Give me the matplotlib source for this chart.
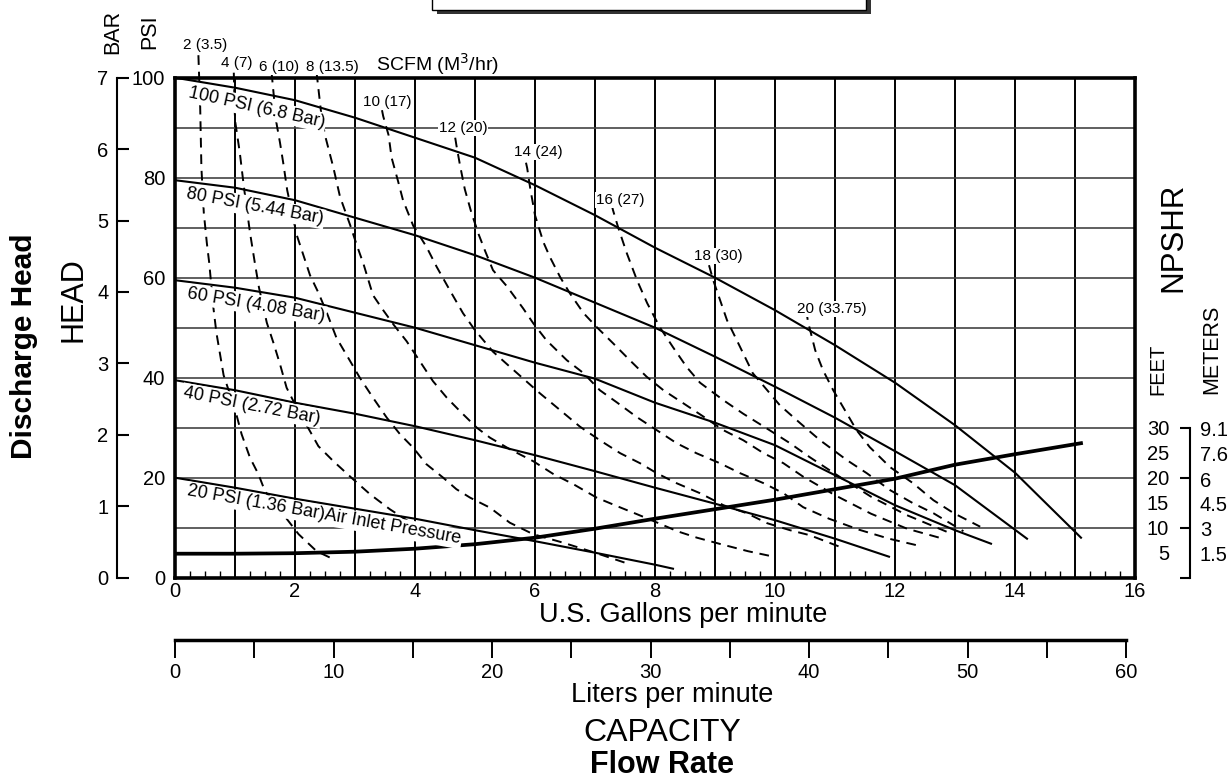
import numpy as np
import matplotlib
matplotlib.use('agg')
import matplotlib.pyplot as plt
from matplotlib.patches import Rectangle

plt.rcParams['font.family'] = ['Liberation Sans', 'DejaVu Sans']

##### Data
# air inlet pressure curves: flow (US gpm) vs discharge head (psi)
gpm_100 = [0, 1, 2, 3, 4, 5, 6, 7, 8, 9, 10, 11, 12, 13, 14, 15.1]
psi_100 = [100, 98, 95.5, 92, 88, 84, 78.5, 72.5, 66, 60, 53.5, 46.5, 39, 30.5, 21, 8]
gpm_80 = [0, 1, 2, 3, 4, 5, 6, 7, 8, 9, 10, 11, 12, 13, 14.2]
psi_80 = [79.5, 78, 75.5, 72, 68.5, 64.5, 60, 55, 50, 44.2, 38.2, 32, 25.3, 18.5, 7.8]
gpm_60 = [0, 1, 2, 3, 4, 5, 6, 7, 8, 9, 10, 11, 12, 13, 13.6]
psi_60 = [59.5, 58, 56, 53, 50, 46.5, 43, 39.8, 35, 31, 26.5, 20.5, 14.5, 9.5, 6.8]
gpm_40 = [0, 1, 2, 3, 4, 5, 6, 7, 8, 9, 10, 11, 11.9]
psi_40 = [39.5, 37.5, 35, 32.8, 30.3, 27.5, 24.5, 21.3, 18, 14.8, 11.5, 7.8, 4.2]
gpm_20 = [0, 1, 2, 3, 4, 5, 6, 7, 8, 8.3]
psi_20 = [20, 18, 15.8, 13.8, 11.8, 9.5, 7.3, 5, 2.6, 1.8]
pressure_labels = ['100 PSI (6.8 Bar)', '80 PSI (5.44 Bar)', '60 PSI (4.08 Bar)',
                   '40 PSI (2.72 Bar)', '20 PSI (1.36 Bar)Air Inlet Pressure']

# NPSHR curve (feet)
gpm_npshr = [0, 1, 2, 3, 4, 5, 6, 7, 8, 9, 10, 11, 12, 13, 14, 15.1]
ft_npshr = [4.8, 4.8, 4.9, 5.2, 5.8, 6.7, 8, 9.8, 11.8, 13.7, 15.6, 17.7, 19.8, 22.6, 24.7, 26.9]

# air consumption curves, SCFM (M3/hr)
gpm_s2 = [0.39, 0.42, 0.44, 0.48, 0.53, 0.57, 0.64, 0.69, 0.81, 1.0, 1.11, 1.25, 1.39, 1.5, 1.75, 2.06, 2.36, 2.64]
psi_s2 = [104.5, 94, 82, 73, 67, 63, 54, 49, 40.5, 33.7, 28.7, 24, 20.7, 17.3, 13.5, 8.7, 5.3, 3.7]
gpm_s4 = [0.98, 1.0, 1.08, 1.15, 1.25, 1.33, 1.4, 1.53, 1.64, 1.75, 1.86, 2.05, 2.25, 2.39, 2.64, 2.94, 3.25, 3.58, 3.95]
psi_s4 = [101, 91.5, 85, 78, 69, 63, 58, 51, 47, 42.7, 38, 33.5, 29.3, 26.3, 23.3, 20, 16.7, 13.7, 10.8]
gpm_s6 = [1.61, 1.69, 1.75, 1.81, 1.87, 2.03, 2.14, 2.25, 2.39, 2.53, 2.69, 2.92, 3.08, 3.3, 3.53, 3.75,
          3.97, 4.19, 4.47, 4.69, 4.92, 5.25, 5.58, 5.97, 6.47, 7.0, 7.5]
psi_s6 = [101, 91, 87, 82.5, 77.5, 68.5, 64.5, 60.5, 57, 53, 48, 43.3, 40, 36, 32, 28.7,
          26, 22.7, 20, 17.7, 16, 14, 11, 8.7, 7, 5, 3]
gpm_s8 = [2.36, 2.44, 2.5, 2.64, 2.75, 2.92, 3.03, 3.14, 3.3, 3.47, 3.65, 3.86, 4.08, 4.3, 4.53, 4.75,
          5.03, 5.25, 5.58, 5.97, 6.31, 6.64, 7.03, 7.37, 7.7, 8.1, 8.37, 8.7, 9.1, 9.55, 9.94]
psi_s8 = [101, 92.5, 88.5, 82, 76.2, 70.5, 66.5, 62.8, 56.5, 53.5, 50.5, 47.3, 43.3, 39.3, 36, 33.3,
          30, 28, 25.7, 23.3, 20.7, 18.7, 16, 14.3, 12.7, 10.7, 9.3, 8, 6.7, 5.3, 4.3]
gpm_s10 = [3.45, 3.47, 3.56, 3.61, 3.72, 3.8, 3.97, 4.19, 4.36, 4.58, 4.8, 5.0, 5.3, 5.58, 6.08, 6.42,
           6.75, 7.08, 7.42, 7.75, 8.03, 8.36, 8.75, 9.14, 9.53, 9.87, 10.25, 10.58, 11.14]
psi_s10 = [93.5, 92.3, 88.5, 84, 79.2, 75.5, 70.4, 66.2, 62.2, 57.5, 52.9, 49.5, 45.2, 42.2, 36.9, 33.5,
           30.2, 27.5, 24.9, 22.9, 20.9, 18.9, 16.9, 14.5, 12.9, 10.9, 9.5, 8.5, 5.9]
gpm_s12 = [4.67, 4.69, 4.75, 4.83, 4.94, 5.06, 5.17, 5.3, 5.53, 5.8, 5.97, 6.19, 6.53, 6.81, 7.08, 7.36,
           7.7, 8.03, 8.36, 8.69, 9.08, 9.42, 9.81, 10.14, 10.47, 10.9, 11.4, 11.9, 12.36]
psi_s12 = [88, 86.5, 82.5, 77.7, 73, 68.7, 65.3, 61.5, 58.3, 53.9, 50.9, 47.5, 43.5, 40.9, 37.5, 35.1,
           32.1, 29.5, 26.9, 24.9, 22.9, 20.9, 18.9, 16.9, 14.1, 11.8, 9.6, 7.8, 6.5]
gpm_s14 = [5.85, 5.87, 5.92, 6.0, 6.14, 6.25, 6.42, 6.58, 6.81, 7.03, 7.3, 7.58, 7.86, 8.14, 8.47, 8.81,
           9.14, 9.47, 9.81, 10.14, 10.47, 11.0, 11.6, 12.2, 12.8]
psi_s14 = [83, 81.9, 77.9, 72.5, 67.1, 64.1, 60.1, 56.9, 52.9, 50.1, 46.9, 43.5, 40.2, 37.5, 34.9, 32.2,
           29.5, 27.5, 24.9, 22.9, 20.2, 16.5, 12.8, 9.8, 7.8]
gpm_s16 = [7.28, 7.3, 7.39, 7.53, 7.7, 7.87, 8.08, 8.3, 8.53, 8.75, 9.14, 9.47, 9.87, 10.25, 10.58,
           11.1, 11.6, 12.2, 12.9]
psi_s16 = [74.5, 73.5, 69.9, 64.9, 59.5, 54.9, 50.1, 46.1, 42.1, 39, 35.5, 32.8, 29.8, 26.9, 24.1,
           20, 16.2, 12.5, 9]
gpm_s18 = [8.9, 8.97, 9.2, 9.42, 9.63, 9.87, 10.08, 10.42, 10.75, 11.2, 11.53, 11.92, 12.3, 12.64, 13.14]
psi_s18 = [62.5, 59.5, 51.5, 46.1, 40.9, 37.5, 34.5, 30.9, 27.5, 23.5, 20.9, 17.5, 14.9, 12.9, 9.3]
gpm_s20 = [10.52, 10.55, 10.67, 10.8, 10.97, 11.36, 11.58, 11.92, 12.3, 12.64, 12.98, 13.42]
psi_s20 = [53.5, 51.2, 45.5, 41.5, 37.5, 29.5, 26.1, 22.1, 18.9, 15.5, 12.9, 10.2]
scfm_labels = ['2 (3.5)', '4 (7)', '6 (10)', '8 (13.5)', '10 (17)', '12 (20)',
               '14 (24)', '16 (27)', '18 (30)', '20 (33.75)']

# axis scales
gpm_ticks = list(range(0, 17))
psi_ticks = list(range(0, 101, 10))
bar_ticks = list(range(0, 8))
lpm_major = list(range(0, 61, 10))
lpm_minor = list(range(5, 60, 10))
feet_major = [0, 10, 20, 30]
feet_minor = [5, 15, 25]
meter_ticks = [1.5, 3, 4.5, 6, 7.6, 9.1]

#############################################################################
##### Plotting
W, H = 1231, 778
TS = 14.5  # tick label size
fig = plt.figure(figsize=(W / 100, H / 100), dpi=100)
ax = fig.add_axes([175 / W, 1 - 577.7 / H, 960 / W, 500 / H])
ax.set_xlim(0, 16)
ax.set_ylim(0, 100)

# grid / ticks
ax.set_xticks(gpm_ticks)
ax.set_xticklabels([str(v) if v % 2 == 0 else '' for v in gpm_ticks])
ax.set_xticks(np.arange(0, 16.01, 0.25), minor=True)
ax.tick_params(axis='x', which='major', length=0, labelsize=TS, pad=3)
ax.tick_params(axis='x', which='minor', direction='in', length=5, width=1.0)
ax.set_yticks(psi_ticks)
ax.set_yticklabels([str(v) if v % 20 == 0 else '' for v in psi_ticks])
ax.tick_params(axis='y', which='major', length=0, labelsize=TS, pad=7)
ax.xaxis.grid(True, which='major', color='black', lw=1.4)
ax.yaxis.grid(True, which='major', color='#444444', lw=1.2)
for s in ax.spines.values():
    s.set_linewidth(2.6)

# pressure curves
for xs, ys in [(gpm_100, psi_100), (gpm_80, psi_80), (gpm_60, psi_60), (gpm_40, psi_40), (gpm_20, psi_20)]:
    ax.plot(xs, ys, color='black', lw=1.5, zorder=3)
ax.plot(gpm_npshr, ft_npshr, color='black', lw=2.7, zorder=3)

# air consumption curves
scfm_curves = [(gpm_s2, psi_s2), (gpm_s4, psi_s4), (gpm_s6, psi_s6), (gpm_s8, psi_s8), (gpm_s10, psi_s10),
               (gpm_s12, psi_s12), (gpm_s14, psi_s14), (gpm_s16, psi_s16), (gpm_s18, psi_s18), (gpm_s20, psi_s20)]
for xs, ys in scfm_curves:
    ax.plot(xs, ys, color='black', lw=1.4, ls=(0, (5, 3.5)), clip_on=False, zorder=3)

wbox = dict(facecolor='white', edgecolor='none', pad=0.6)
scfm_pos = [(0.5, 106.6), (1.03, 102.9), (1.73, 102.1), (2.63, 102.1), (3.53, 95.1),
            (4.8, 89.9), (6.05, 85.1), (7.42, 75.5), (9.05, 64.3), (10.95, 53.7)]
for lab, (x, y) in zip(scfm_labels, scfm_pos):
    ax.text(x, y, lab, fontsize=11, ha='center', va='center', bbox=wbox, zorder=5)
ax.text(4.38, 102.7, 'SCFM (M$^3$/hr)', fontsize=14, ha='center', va='center', zorder=5)

press_pos = [(1.36, 94.0, -12.5), (1.33, 74.2, -10.5), (1.35, 54.6, -9.5), (1.28, 34.4, -11), (2.48, 12.5, -10)]
for lab, (x, y, r) in zip(pressure_labels, press_pos):
    ax.text(x, y, lab, fontsize=13, ha='center', va='center', rotation=r, rotation_mode='anchor',
            bbox=dict(facecolor='white', edgecolor='none', pad=1.0), zorder=5)

# BAR scale on the left
bar = ax.secondary_yaxis(-58.3 / 960, functions=(lambda p: p * 0.07, lambda b: b / 0.07))
bar.set_yticks(bar_ticks)
bar.tick_params(direction='in', length=8.4, width=1.5, labelsize=TS, pad=6)
bar.spines['left'].set_linewidth(1.5)

# NPSHR scale on the right
npsh_loc = 1 + 55 / 960
ft = ax.secondary_yaxis(npsh_loc)
ft.set_alignment('left')
ft.set_yticks(feet_major, labels=['', '10', '20', '30'])
ft.set_yticks(feet_minor, labels=['5', '15', '25'], minor=True)
ft.tick_params(which='major', direction='out', length=7, width=1.5, labelsize=TS, pad=8)
ft.tick_params(which='minor', length=0, labelsize=TS, pad=15)
ft.spines['left'].set_bounds(0, 30)
ft.spines['left'].set_linewidth(1.5)

mt = ax.secondary_yaxis(npsh_loc, functions=(lambda f: f * 0.3048, lambda m: m / 0.3048))
mt.set_yticks(meter_ticks, labels=['1.5', '3', '4.5', '6', '7.6', '9.1'])
mt.tick_params(length=0, labelsize=TS, pad=7)
mt.spines['right'].set_visible(False)

# liters per minute scale
lpm = ax.secondary_xaxis(-62 / 500, functions=(lambda g: g * 3.785, lambda l: l / 3.785))
lpm.set_xticks(lpm_major)
lpm.set_xticks(lpm_minor, minor=True)
lpm.tick_params(which='both', direction='out', length=13, width=1.4, labelsize=TS, pad=4)
lpm.spines['bottom'].set_bounds(0, 60)
lpm.spines['bottom'].set_linewidth(2.5)

# titles and axis names
def px(x, y):
    return x / W, 1 - y / H

fig.text(*px(113, 32), 'BAR', rotation=90, fontsize=15.5, ha='center', va='center')
fig.text(*px(150, 32), 'PSI', rotation=90, fontsize=15.5, ha='center', va='center')
fig.text(*px(73, 300), 'HEAD', rotation=90, fontsize=22, ha='center', va='center')
fig.text(*px(24, 346), 'Discharge Head', rotation=90, fontsize=21.5, fontweight='bold', ha='center', va='center')
fig.text(*px(1173, 237), 'NPSHR', rotation=90, fontsize=22.5, ha='center', va='center')
fig.text(*px(1158, 369), 'FEET', rotation=90, fontsize=14.5, ha='center', va='center')
fig.text(*px(1212, 349), 'METERS', rotation=90, fontsize=15.5, ha='center', va='center')
fig.text(*px(683, 615), 'U.S. Gallons per minute', fontsize=19.5, ha='center', va='center')
fig.text(*px(672, 695), 'Liters per minute', fontsize=19.5, ha='center', va='center')
fig.text(*px(662, 733), 'CAPACITY', fontsize=23, ha='center', va='center')
fig.text(*px(662, 765), 'Flow Rate', fontsize=22, fontweight='bold', ha='center', va='center')

# title box cut off at the top
fig.add_artist(Rectangle(px(437, 14), 434 / W, 20 / H, transform=fig.transFigure,
                         facecolor='#333333', edgecolor='none'))
fig.add_artist(Rectangle(px(432, 10), 434 / W, 20 / H, transform=fig.transFigure,
                         facecolor='white', edgecolor='black', lw=1))

plt.savefig('out.png', dpi=100)
